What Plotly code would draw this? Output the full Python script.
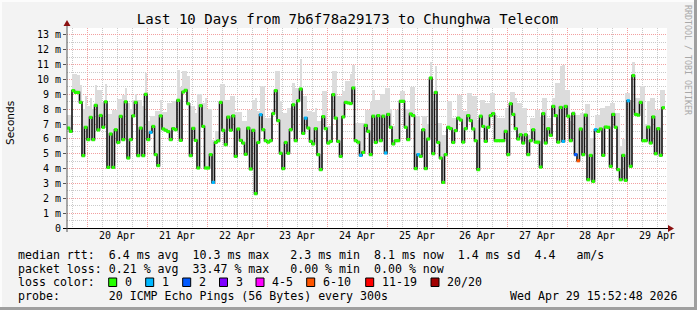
import plotly.graph_objects as go
import pandas as pd

# ---------------- data ----------------
start_time = "2026-04-19 16:00"
end_time = "2026-04-29 16:00"

# hourly median RTT (ms), starting Apr 19 16:00
medians = [
    6.73, 6.51, 9.25, 9.13, 9.13, 8.46, 4.87, 6.78, 5.95, 7.45,
    5.95, 8.26, 6.6, 7.58, 6.78, 8.5, 4.08, 6.33, 4.08, 6.62,
    5.76, 7.52, 5.95, 8.5, 4.71, 5.95, 7.55, 8.46, 4.87, 6.73,
    4.87, 9.0, 5.95, 6.44, 6.84, 4.94, 4.2, 7.55, 6.67, 6.58,
    6.49, 5.95, 6.69, 6.62, 8.6, 5.9, 9.16, 9.27, 8.37, 4.87,
    6.71, 5.9, 4.04, 8.24, 6.84, 4.04, 4.04, 4.94, 3.07, 5.76,
    5.87, 8.46, 6.58, 5.61, 7.47, 6.58, 7.55, 4.82, 6.67, 5.9,
    5.72, 4.96, 6.73, 3.97, 6.58, 2.31, 5.76, 7.63, 6.62, 5.88,
    5.78, 5.88, 7.7, 9.25, 7.23, 5.03, 4.0, 5.76, 5.03, 6.62,
    8.3, 5.88, 8.57, 9.36, 6.37, 7.4, 6.73, 5.83, 5.66, 6.69,
    4.94, 3.93, 7.5, 6.69, 5.72, 5.83, 8.98, 7.4, 5.83, 4.82,
    7.48, 8.46, 8.42, 8.38, 9.43, 5.88, 5.78, 4.89, 5.09, 6.91,
    6.51, 4.94, 7.53, 5.76, 7.57, 5.88, 7.53, 5.05, 7.65, 6.78,
    5.66, 5.88, 5.88, 8.53, 8.53, 6.78, 5.95, 7.68, 7.57, 4.0,
    4.94, 4.82, 6.62, 4.0, 5.99, 10.1, 5.0, 9.13, 5.76, 4.71,
    3.07, 4.94, 6.78, 6.69, 5.76, 6.56, 7.4, 7.27, 5.78, 6.69,
    7.57, 7.23, 6.67, 5.88, 3.93, 7.53, 6.84, 5.83, 6.78, 7.57,
    7.7, 5.88, 5.88, 5.88, 5.88, 6.51, 4.94, 8.37, 7.65, 6.69,
    5.99, 6.28, 5.72, 6.28, 4.94, 5.88, 6.62, 5.78, 5.78, 4.1,
    7.7, 5.72, 6.69, 6.24, 8.19, 7.57, 5.78, 8.12, 5.83, 8.19,
    7.53, 5.88, 7.7, 4.94, 4.53, 6.67, 4.94, 7.6, 3.25, 4.89,
    3.14, 6.62, 6.51, 6.67, 4.89, 6.8, 6.78, 4.15, 7.65, 6.78,
    3.93, 3.25, 4.89, 3.21, 8.57, 4.15, 10.26, 7.65, 7.6, 8.46,
    5.88, 5.88, 6.8, 5.72, 7.48, 5.0, 6.69, 4.89, 8.1,
]

# top of the "smoke" (max ping) per hour (ms)
smoke_top = [
    7.6, 7.6, 10.4, 10.4, 10.3, 9.65, 8.0, 8.9, 8.2, 8.75,
    8.0, 9.65, 9.3, 9.3, 8.5, 9.7, 7.7, 7.7, 7.96, 7.96,
    8.7, 8.7, 8.97, 9.42, 8.4, 8.0, 8.6, 9.0, 8.6, 8.6,
    8.2, 10.43, 7.2, 7.56, 7.56, 7.85, 7.85, 8.6, 7.78, 7.78,
    8.41, 8.41, 8.57, 8.57, 10.65, 9.5, 10.55, 10.55, 10.26, 8.19,
    8.19, 7.74, 9.04, 9.04, 8.4, 8.75, 8.0, 8.0, 5.95, 6.5,
    6.5, 9.72, 9.72, 8.64, 8.64, 8.86, 8.86, 7.78, 7.78, 7.78,
    7.18, 7.18, 7.96, 7.96, 8.64, 8.75, 7.85, 9.54, 9.54, 7.4,
    7.4, 7.4, 8.0, 10.6, 10.6, 8.53, 7.74, 7.74, 8.07, 8.07,
    9.76, 9.42, 9.42, 11.4, 8.86, 8.86, 7.85, 7.85, 7.81, 8.07,
    7.18, 7.18, 9.2, 9.2, 6.84, 6.84, 10.55, 10.55, 8.86, 8.86,
    9.2, 9.87, 9.87, 10.37, 11.0, 7.1, 7.07, 7.07, 7.07, 7.96,
    7.96, 8.5, 9.3, 8.64, 8.64, 9.02, 9.02, 9.42, 9.42, 8.0,
    6.84, 7.96, 7.96, 9.25, 9.25, 8.0, 8.0, 9.47, 9.47, 7.52,
    7.52, 6.51, 7.52, 7.52, 7.0, 11.2, 8.5, 10.9, 7.07, 7.07,
    6.28, 6.28, 8.53, 8.53, 7.4, 7.4, 8.98, 8.98, 7.85, 7.85,
    9.09, 9.09, 8.86, 8.86, 7.29, 8.64, 8.64, 8.42, 8.42, 9.09,
    9.09, 7.6, 7.4, 7.4, 7.4, 8.07, 8.07, 9.15, 9.15, 8.75,
    8.42, 8.42, 8.07, 8.07, 6.28, 7.4, 7.4, 7.96, 7.96, 7.5,
    8.75, 8.75, 7.4, 7.4, 8.75, 9.76, 9.76, 10.9, 11.0, 9.3,
    9.3, 7.18, 7.9, 7.63, 7.63, 7.74, 7.74, 8.35, 8.35, 6.06,
    6.06, 7.63, 7.63, 8.07, 8.07, 8.19, 8.19, 8.42, 8.42, 7.74,
    7.74, 5.5, 6.0, 9.09, 9.09, 8.6, 11.2, 8.75, 8.75, 9.54,
    9.54, 7.0, 8.53, 8.75, 8.75, 7.96, 7.96, 9.3, 9.3,
]

# hours (1-based) with packet loss, and lost pings (of 20)
loss_hours = [34, 59, 78, 96, 118, 128, 141, 199, 204, 205, 212, 225]
loss_counts = [1, 1, 1, 1, 1, 1, 1, 1, 2, 7, 1, 1]

loss_labels = ["0", "1", "2", "3", "4-5", "6-10", "11-19", "20/20"]
loss_colors = ["#26ff00", "#00b8ff", "#0059ff", "#7e00ff", "#ff00ff", "#ff5500", "#ff0000", "#a10000"]

y_tickvals = list(range(14))
y_ticktext = ["0", "1 m", "2 m", "3 m", "4 m", "5 m", "6 m", "7 m", "8 m", "9 m", "10 m", "11 m", "12 m", "13 m"]

rtt_stats = [6.4, 10.3, 2.3, 8.1, 1.4, 4.4]      # avg, max, min, now, sd, am/s
loss_stats = [0.21, 33.47, 0.00, 0.00]           # avg, max, min, now

title_text = "Last 10 Days from 7b6f78a29173 to Chunghwa Telecom"
probe_text = "20 ICMP Echo Pings (56 Bytes) every 300s"
date_text = "Wed Apr 29 15:52:48 2026"
credit_text = "RRDTOOL / TOBI OETIKER"

# ---------------- geometry helpers ----------------
W, H = 697, 310
L, R, T, B = 67, 30, 28, 82
PW, PH = W - L - R, H - T - B


def px(x):
    return (x - L) / PW


def py(y):
    return (T + PH - y) / PH


MONO = "DejaVu Sans Mono"
NB = "\u00a0"


def nb(s):
    return s.replace(" ", NB)


def bucket(n):
    if n == 0:
        return 0
    if n <= 3:
        return n
    if n <= 5:
        return 4
    if n <= 10:
        return 5
    if n <= 19:
        return 6
    return 7


t0 = pd.Timestamp(start_time)
n = len(medians)
starts = [t0 + pd.Timedelta(hours=i) for i in range(n)]
centers = [s + pd.Timedelta(minutes=30) for s in starts]
loss_map = dict(zip(loss_hours, loss_counts))
mcolors = [loss_colors[bucket(loss_map.get(i + 1, 0))] for i in range(n)]

fig = go.Figure()

# smoke
fig.add_trace(go.Bar(
    x=centers, y=[t - m for t, m in zip(smoke_top, medians)], base=medians,
    width=3600000, marker=dict(color="#dcdcdc", line=dict(width=0)),
    hoverinfo="skip", showlegend=False,
))
# median step line
fig.add_trace(go.Scatter(
    x=starts + [starts[-1] + pd.Timedelta(hours=1)], y=medians + [medians[-1]],
    mode="lines", line=dict(color="#141414", width=1.6, shape="hv"),
    hoverinfo="skip", showlegend=False,
))
# loss-coloured median marks
fig.add_trace(go.Scatter(
    x=centers, y=medians, mode="markers",
    marker=dict(symbol="square", size=3.2, color=mcolors, line=dict(width=0)),
    hoverinfo="skip", showlegend=False,
))

shapes = []
# axis lines + arrows
shapes.append(dict(type="line", xref="paper", yref="paper", x0=px(63), x1=px(669), y0=py(228.5), y1=py(228.5),
                   line=dict(color="black", width=1)))
shapes.append(dict(type="path", xref="paper", yref="paper",
                   path=f"M {px(668)} {py(225)} L {px(674)} {py(228.5)} L {px(668)} {py(232)} Z",
                   fillcolor="#8b1010", line=dict(width=0)))
shapes.append(dict(type="line", xref="paper", yref="paper", x0=px(67), x1=px(67), y0=py(232), y1=py(25),
                   line=dict(color="#555555", width=1)))
shapes.append(dict(type="path", xref="paper", yref="paper",
                   path=f"M {px(63.5)} {py(26)} L {px(67)} {py(20)} L {px(70.5)} {py(26)} Z",
                   fillcolor="#8b1010", line=dict(width=0)))
# frame
shapes.append(dict(type="rect", xref="paper", yref="paper", x0=px(694), x1=px(697), y0=py(0), y1=py(310),
                   fillcolor="#9f9f9f", line=dict(width=0)))
shapes.append(dict(type="rect", xref="paper", yref="paper", x0=px(0), x1=px(697), y0=py(307), y1=py(310),
                   fillcolor="#9f9f9f", line=dict(width=0)))
shapes.append(dict(type="rect", xref="paper", yref="paper", x0=px(0), x1=px(694), y0=py(0), y1=py(2),
                   fillcolor="#fcfcfc", line=dict(width=0)))
shapes.append(dict(type="rect", xref="paper", yref="paper", x0=px(0), x1=px(2), y0=py(0), y1=py(307),
                   fillcolor="#fcfcfc", line=dict(width=0)))

annotations = []


def text(x, y, s, size=11.6, anchor="left", color="black", family=MONO, angle=0):
    annotations.append(dict(xref="paper", yref="paper", x=px(x), y=py(y), text=nb(s), showarrow=False,
                            xanchor=anchor, yanchor="middle", textangle=angle,
                            font=dict(family=family, size=size, color=color)))


a, b, c, d, e, f = rtt_stats
row1 = f"median rtt:  {a:.1f} ms avg  {b:.1f} ms max  {c:4.1f} ms min  {d:.1f} ms now  {e:.1f} ms sd  {f:.1f}   am/s"
la, lb, lc, ld = loss_stats
row2 = f"packet loss: {la:.2f} % avg  {lb:.2f} % max  {lc:5.2f} % min  {ld:.2f} % now"
text(16, 255, row1)
text(16, 268.5, row2)
text(16, 282, "loss color:")
box_x = [108.7, 145.7, 182.7, 219.5, 256, 306.7, 365.7, 431]
for bx, lab, col in zip(box_x, loss_labels, loss_colors):
    shapes.append(dict(type="rect", xref="paper", yref="paper", x0=px(bx), x1=px(bx + 8), y0=py(286.5), y1=py(278),
                       fillcolor=col, line=dict(color="black", width=1)))
    text(bx + 14, 282, lab)
text(16, 296, "probe:       " + probe_text)
text(680, 296, date_text, anchor="right")
text(10, 123, "Seconds", size=10.5, anchor="center", family="DejaVu Sans", angle=-90)
text(688, 60, credit_text, size=8.3, anchor="center", color="#a8a8a8", angle=90)

fig.update_layout(
    width=W, height=H, margin=dict(l=L, r=R, t=T, b=B, pad=0),
    paper_bgcolor="#f3f3f3", plot_bgcolor="white",
    bargap=0, barmode="overlay", showlegend=False,
    title=dict(text=title_text, x=347.5 / W, y=1 - 19 / H, xref="container", yref="container",
               xanchor="center", yanchor="middle", font=dict(family=MONO, size=14, color="black")),
    shapes=shapes, annotations=annotations,
    xaxis=dict(
        type="date", range=[start_time, end_time], tickmode="linear", tick0="2026-04-20",
        dtick=86400000, ticklabelmode="period", tickformat="%d %b",
        showgrid=True, gridcolor="#f2a0a0", griddash="1px,1px", gridwidth=1,
        minor=dict(dtick=6 * 3600000, tick0="2026-04-20", showgrid=True, gridcolor="#cacaca",
                   griddash="1px,1px", gridwidth=1),
        ticks="", showline=False, zeroline=False,
        tickfont=dict(family=MONO, size=10, color="black"),
    ),
    yaxis=dict(
        range=[0, 200 / 14.85], tickmode="array", tickvals=y_tickvals, ticktext=y_ticktext,
        showgrid=True, gridcolor="#f2a0a0", griddash="1px,1px", gridwidth=1,
        minor=dict(dtick=0.5, tick0=0, showgrid=True, gridcolor="#cacaca", griddash="1px,1px", gridwidth=1),
        ticks="outside", ticklen=3, tickcolor="#555555", showline=False, zeroline=False,
        tickfont=dict(family=MONO, size=10, color="black"),
    ),
)

fig.write_html("out.html")
